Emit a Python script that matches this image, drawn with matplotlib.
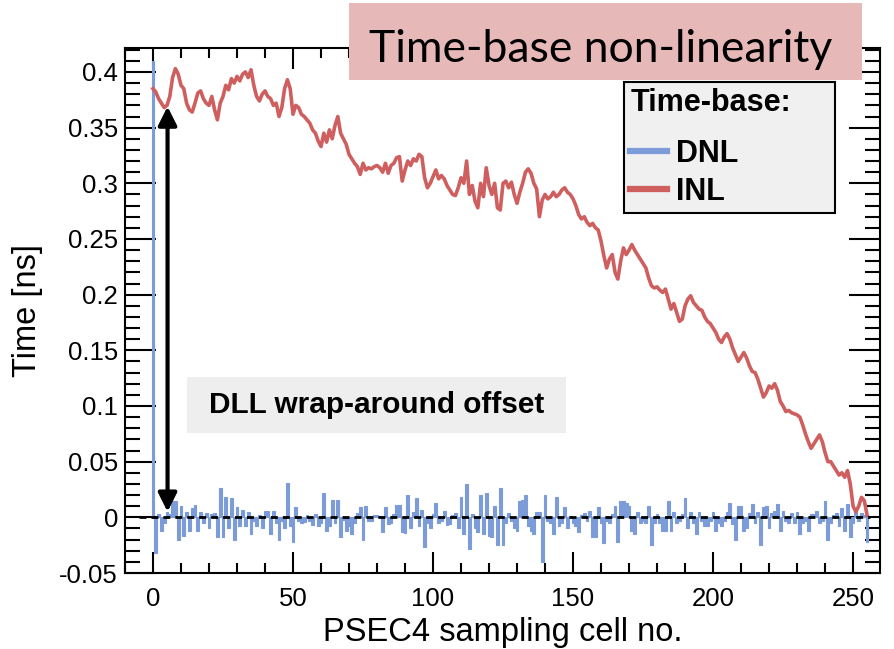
import matplotlib
matplotlib.use("Agg")
import matplotlib.pyplot as plt
import numpy as np
from matplotlib.lines import Line2D
from matplotlib.patches import Rectangle
from matplotlib.ticker import MultipleLocator

plt.rcParams["font.family"] = ["Liberation Sans", "DejaVu Sans"]

# PSEC4 time-base calibration, values in ps per sampling cell
cells = np.arange(256)

dnl_ps = [
    410, -32, 3, -12, -5, 5, 3, 15, 15, -20, 10, -17, 5, -12, 8, 11,
    -12, 5, -5, 4, -10, 3, 4, -18, 26, -18, 18, -10, 17, -20, 9, -8,
    7, -8, 5, -15, -3, -8, 2, -10, 6, 6, -15, 6, -5, -20, -3, -10,
    31, -8, -22, 9, -3, -5, -4, 2, -3, -7, 3, -8, -5, 22, -12, -8,
    16, -5, 16, -18, -2, -12, -8, -15, -5, 4, 9, -20, 10, -3, -3, 2,
    2, 1, -13, 9, -6, -5, 3, 11, 11, -13, -14, 20, -10, 5, 17, -8,
    7, -27, -5, -10, 3, 13, -5, -3, 6, -7, -6, 2, 4, -10, 18, -15,
    30, -28, 3, -10, -13, 20, -15, 22, -17, -18, 10, -25, 26, -25, -5, 4,
    -3, -10, -12, 15, 16, 20, -8, -12, -15, 5, 5, -40, 20, -3, -5, -15,
    18, -8, -5, 9, -10, 1, -5, -8, -13, 2, 4, -3, 6, -18, -18, 9,
    -5, -23, -3, -5, 3, 10, -22, 15, 15, 13, 10, -12, -15, 5, -5, -3,
    -5, 10, -25, -5, 3, -5, -12, -12, 15, -12, 5, -5, -3, 3, 17, -10,
    5, -5, -15, 5, -3, -8, -8, -3, 5, -12, -5, -8, -3, 5, 13, -6,
    -20, 10, 10, -12, -10, 4, 12, -5, 5, -25, 9, 10, -10, 4, 6, 12,
    -12, 6, -3, -5, 4, -5, 5, -15, -5, -3, -12, 3, 3, 6, -5, -3,
    15, -20, -5, 2, 4, -8, 8, -12, 12, -18, -5, 5, -3, 4, 2, -22,
]

inl_ps = [
    385, 382, 376, 372, 368, 370, 378, 395, 403, 398, 388, 385, 372, 366, 364, 372,
    381, 383, 376, 372, 370, 378, 366, 357, 372, 378, 388, 384, 394, 390, 396, 392,
    398, 400, 395, 402, 388, 378, 374, 380, 383, 378, 376, 370, 372, 360, 368, 385,
    393, 385, 362, 370, 368, 362, 360, 357, 354, 348, 345, 338, 333, 345, 337, 348,
    340, 352, 360, 345, 340, 335, 326, 322, 318, 315, 308, 318, 312, 314, 313, 315,
    316, 314, 310, 318, 309, 316, 318, 323, 324, 302, 312, 320, 316, 322, 320, 326,
    324, 305, 296, 300, 306, 312, 304, 307, 304, 298, 294, 290, 289, 296, 305, 300,
    320, 290, 298, 284, 278, 300, 288, 314, 298, 290, 300, 278, 276, 300, 302, 296,
    301, 290, 282, 292, 300, 310, 313, 309, 300, 295, 270, 285, 290, 286, 288, 292,
    288, 290, 294, 296, 292, 290, 286, 280, 272, 268, 270, 265, 262, 264, 260, 258,
    248, 235, 224, 232, 236, 220, 214, 230, 242, 236, 240, 245, 240, 236, 232, 228,
    224, 215, 208, 206, 207, 204, 202, 205, 196, 187, 192, 184, 176, 178, 190, 196,
    199, 193, 190, 187, 186, 180, 176, 174, 170, 166, 160, 157, 162, 165, 160, 152,
    146, 140, 144, 148, 143, 136, 131, 130, 124, 116, 108, 112, 118, 116, 120, 114,
    104, 100, 95, 96, 94, 93, 92, 90, 83, 75, 68, 62, 66, 70, 74, 68,
    58, 50, 50, 46, 42, 38, 40, 36, 42, 30, 10, 5, 10, 18, 15, 2,
]

dnl = np.array(dnl_ps) / 1000.0
inl = np.array(inl_ps) / 1000.0

blue = "#7b9bd9"
red = "#cf5f5f"

fig = plt.figure(figsize=(8.94, 6.49), dpi=100)
ax = fig.add_axes([0.1398, 0.1171, 0.8445, 0.8089])

ax.bar(cells, dnl, width=1.0, color=blue, edgecolor=blue, linewidth=0.8, zorder=2)
ax.plot(cells, inl, color=red, lw=2.6, zorder=3)
ax.plot([-5, 256], [0, 0], color="black", lw=2.0, ls=(0, (2.5, 1.8)), zorder=4)

# wrap-around offset arrow and its label
ax.annotate("", xy=(5.2, 0.005), xytext=(5.2, 0.369),
            arrowprops=dict(arrowstyle="<|-|>", lw=3, color="black",
                            mutation_scale=28, shrinkA=0, shrinkB=0),
            zorder=5)
ax.add_patch(Rectangle((0.0821, 0.2667), 0.502, 0.1067, transform=ax.transAxes,
                       fc="#eeeeee", ec="none", zorder=5))
ax.text(0.333, 0.32, "DLL wrap-around offset", transform=ax.transAxes,
        ha="center", va="center", fontsize=21.4, fontweight="bold", zorder=6)

ax.set_xlim(-10, 259.6)
ax.set_ylim(-0.05, 0.4215)
ax.xaxis.set_major_locator(MultipleLocator(50))
ax.xaxis.set_minor_locator(MultipleLocator(10))
ax.yaxis.set_major_locator(MultipleLocator(0.05))
ax.yaxis.set_minor_locator(MultipleLocator(0.01))
ax.yaxis.set_major_formatter(plt.FuncFormatter(lambda v, p: f"{v:g}"))
ax.tick_params(which="both", direction="in", top=True, right=True,
               width=1.5, labelsize=18.5, colors="black")
ax.tick_params(axis="y", which="major", length=22, pad=5)
ax.tick_params(axis="y", which="minor", length=11)
ax.tick_params(axis="x", which="major", length=15, pad=10)
ax.tick_params(axis="x", which="minor", length=7)
for s in ax.spines.values():
    s.set_linewidth(1.5)

ax.set_xlabel("PSEC4 sampling cell no.", fontsize=23.5)
ax.set_ylabel("Time [ns]", fontsize=23.5)
ax.xaxis.set_label_coords(0.5, -0.083)
ax.yaxis.set_label_coords(-0.108, 0.5)

handles = [Line2D([], [], color=blue, lw=4.5), Line2D([], [], color=red, lw=4.5)]
leg = ax.legend(handles, ["DNL", "INL"], title="Time-base:", alignment="left",
                loc="upper left", bbox_to_anchor=(0.661, 0.6857, 0.2795, 0.2493),
                mode="expand", borderaxespad=0, borderpad=0.2,
                handlelength=1.2, handletextpad=0.3, labelspacing=0.25,
                prop=dict(size=22, weight="bold"),
                title_fontproperties=dict(size=22, weight="bold"),
                fancybox=False, framealpha=1, facecolor="#f0f0f0",
                edgecolor="black")
leg.get_frame().set_linewidth(1.5)
# a little more room between the legend title and its entries
leg._legend_box.sep = 0.38 * 22 + 6.5

# heading banner over the top of the frame
fig.patches.append(Rectangle((0.3904, 0.8767), 0.5738, 0.1187,
                             transform=fig.transFigure, fc="#e6b8b7",
                             ec="none", zorder=10))
fig.text(0.6723, 0.9045, "Time-base non-linearity", ha="center",
         va="baseline", fontsize=32, family="Lato", zorder=11)

fig.savefig("out.png", dpi=100)
